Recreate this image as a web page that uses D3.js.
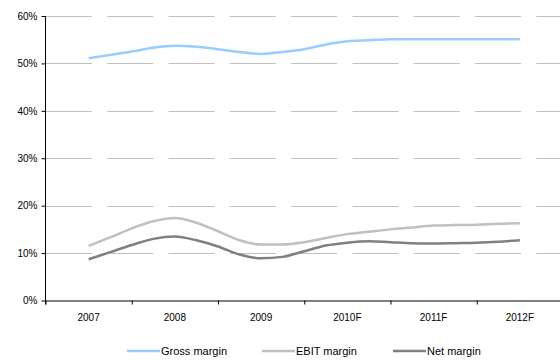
<!DOCTYPE html>
<html>
<head>
<meta charset="utf-8">
<script src="https://cdn.jsdelivr.net/npm/d3@7"></script>
<style>
  html, body { margin: 0; padding: 0; background: #fff; }
  svg { display: block; font-family: "Liberation Sans", Arial, sans-serif; }
</style>
</head>
<body>
<svg id="chart" width="560" height="360"></svg>
<script>
// Fiscal years on the category axis
const years = ["2007", "2008", "2009", "2010F", "2011F", "2012F"];
// Quarterly sample positions, in years from the 2007 point
const periods = [0, 0.25, 0.5, 0.75, 1, 1.25, 1.5, 1.75, 2, 2.25, 2.5, 2.75, 3, 3.25, 3.5, 3.75, 4, 4.25, 4.5, 4.75, 5];
// Margins, in percent
const grossMargin = [51.1, 51.8, 52.5, 53.3, 53.7, 53.5, 53.0, 52.4, 52.0, 52.4, 53.0, 54.0, 54.7, 54.9, 55.1, 55.1, 55.1, 55.1, 55.1, 55.1, 55.1];
const ebitMargin  = [11.5, 13.3, 15.2, 16.7, 17.4, 16.4, 14.6, 12.7, 11.8, 11.8, 12.3, 13.2, 14.0, 14.5, 15.0, 15.4, 15.8, 15.9, 16.0, 16.2, 16.3];
const netMargin   = [8.7, 10.2, 11.7, 13.0, 13.5, 12.7, 11.4, 9.7, 8.9, 9.2, 10.4, 11.6, 12.2, 12.5, 12.3, 12.1, 12.0, 12.1, 12.2, 12.4, 12.7];
const yTicks = [0, 10, 20, 30, 40, 50, 60];
const seriesNames = ["Gross margin", "EBIT margin", "Net margin"];

const series = [
  { name: seriesNames[0], values: grossMargin, color: "#99ccff" },
  { name: seriesNames[1], values: ebitMargin,  color: "#c0c0c0" },
  { name: seriesNames[2], values: netMargin,   color: "#808080" }
];

const svg = d3.select("#chart");
const plotLeft = 45.5, plotRight = 563, plotTop = 16, plotBottom = 300.5;

const x = d3.scaleLinear().domain([-0.5, years.length - 0.5]).range([plotLeft, plotRight]);
const y = d3.scaleLinear().domain([0, 60]).range([plotBottom, plotTop]);

// Dashed horizontal gridlines
svg.append("g")
  .selectAll("line")
  .data(yTicks.filter(v => v > 0))
  .join("line")
  .attr("x1", plotLeft + 0.5)
  .attr("x2", 560)
  .attr("y1", d => Math.round(y(d)) + 0.5)
  .attr("y2", d => Math.round(y(d)) + 0.5)
  .attr("stroke", "#c0c0c0")
  .attr("stroke-width", 1)
  .attr("stroke-dasharray", "46,15.3");

// Y axis
const yAxis = d3.axisLeft(y)
  .tickValues(yTicks)
  .tickFormat(d => d + "%")
  .tickSize(4)
  .tickPadding(4);
const gy = svg.append("g").attr("transform", `translate(${plotLeft},0)`).call(yAxis);
gy.select(".domain").attr("stroke", "#000").attr("d", `M0,${plotTop}V${plotBottom + 4}`);
gy.selectAll(".tick line").attr("stroke", "#000");
gy.selectAll(".tick text").attr("font-size", 10).attr("fill", "#000")
  .attr("font-family", "Liberation Sans, Arial, sans-serif");

// X axis: ticks between categories, labels at category centres
const xAxis = d3.axisBottom(x)
  .tickValues(d3.range(years.length + 1).map(i => i - 0.5))
  .tickFormat("")
  .tickSize(4)
  .tickSizeOuter(0);
const gx = svg.append("g").attr("transform", `translate(0,${plotBottom})`).call(xAxis);
gx.select(".domain").attr("stroke", "#000");
gx.selectAll(".tick line").attr("stroke", "#000");

svg.append("g")
  .selectAll("text")
  .data(years)
  .join("text")
  .attr("x", (d, i) => x(i))
  .attr("y", 321)
  .attr("text-anchor", "middle")
  .attr("font-size", 10)
  .attr("fill", "#000")
  .text(d => d);

// Margin lines
const line = d3.line()
  .x((d, i) => x(periods[i]))
  .y(d => y(d))
  .curve(d3.curveMonotoneX);

svg.append("g")
  .selectAll("path")
  .data(series)
  .join("path")
  .attr("fill", "none")
  .attr("stroke", d => d.color)
  .attr("stroke-width", 2.5)
  .attr("stroke-linejoin", "round")
  .attr("d", d => line(d.values));

// Legend
const legendX = [127, 262, 393];
const legend = svg.append("g")
  .selectAll("g")
  .data(series)
  .join("g")
  .attr("transform", (d, i) => `translate(${legendX[i]},351)`);
legend.append("line")
  .attr("x1", 0).attr("x2", 33)
  .attr("stroke", d => d.color)
  .attr("stroke-width", 2.5);
legend.append("text")
  .attr("x", 34)
  .attr("y", 4)
  .attr("font-size", 11)
  .attr("fill", "#000")
  .text(d => d.name);
</script>
</body>
</html>
